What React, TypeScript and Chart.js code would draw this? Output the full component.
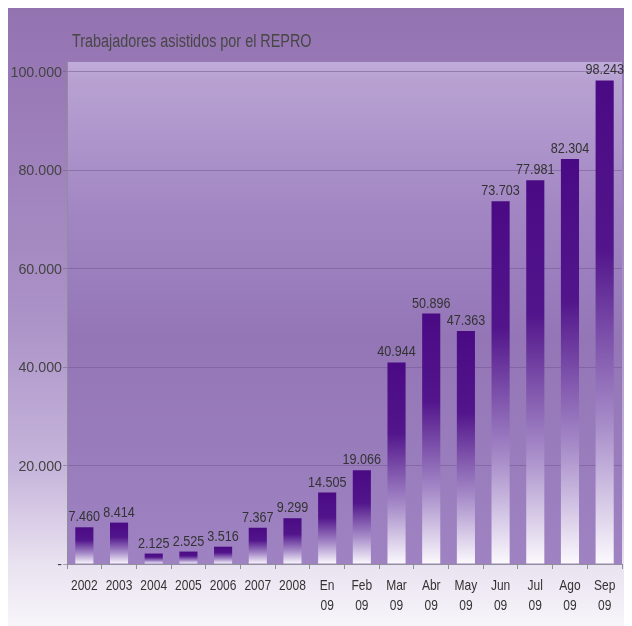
import React, { useEffect, useRef } from "react";
import { Chart, registerables } from "chart.js";

Chart.register(...registerables);

const categories: string[][] = [
  ["2002"], ["2003"], ["2004"], ["2005"], ["2006"], ["2007"], ["2008"],
  ["En", "09"], ["Feb", "09"], ["Mar", "09"], ["Abr", "09"], ["May", "09"],
  ["Jun", "09"], ["Jul", "09"], ["Ago", "09"], ["Sep", "09"],
];
const values: number[] = [
  7460, 8414, 2125, 2525, 3516, 7367, 9299, 14505, 19066, 40944, 50896, 47363,
  73703, 77981, 82304, 98243,
];
const yTicks: number[] = [0, 20000, 40000, 60000, 80000, 100000];
const title = "Trabajadores asistidos por el REPRO";

const FONT = '"Liberation Sans", Arial, sans-serif';

const fmt = (v: number) => (v === 0 ? "-" : v.toLocaleString("de-DE"));

function narrowText(
  ctx: CanvasRenderingContext2D,
  text: string,
  x: number,
  y: number,
  size: number,
  k: number,
  align: CanvasTextAlign,
  baseline: CanvasTextBaseline,
  color: string
) {
  ctx.save();
  ctx.translate(x, y);
  ctx.scale(k, 1);
  ctx.font = `${size}px ${FONT}`;
  ctx.textAlign = align;
  ctx.textBaseline = baseline;
  ctx.fillStyle = color;
  ctx.fillText(text, 0, 0);
  ctx.restore();
}

export default function App() {
  const ref = useRef<HTMLCanvasElement | null>(null);

  useEffect(() => {
    if (!ref.current) return;
    document.body.style.overflow = "hidden";

    const bgPlugin = {
      id: "bg",
      beforeDraw(chart: any) {
        const { ctx, width, height, chartArea: a } = chart;
        ctx.save();
        const g = ctx.createLinearGradient(0, 0, 0, height);
        g.addColorStop(0, "#9372b0");
        g.addColorStop(0.15, "#9a7bb8");
        g.addColorStop(0.5, "#ab92c7");
        g.addColorStop(0.75, "#c7b6dc");
        g.addColorStop(0.9, "#e9e2f0");
        g.addColorStop(1, "#f7f5fa");
        ctx.fillStyle = g;
        ctx.fillRect(0, 0, width, height);
        const p = ctx.createLinearGradient(0, a.top, 0, a.bottom);
        p.addColorStop(0, "#c1addb");
        p.addColorStop(0.03, "#b8a2d2");
        p.addColorStop(0.3, "#a286c3");
        p.addColorStop(0.55, "#9476b7");
        p.addColorStop(1, "#9e82c1");
        ctx.fillStyle = p;
        ctx.fillRect(a.left, a.top, a.right - a.left, a.bottom - a.top);
        ctx.restore();
        narrowText(ctx, title, a.left + 5, a.top - 15, 18, 0.8, "left", "alphabetic", "#474747");
      },
    };

    const labelPlugin = {
      id: "vals",
      afterDraw(chart: any) {
        const { ctx, chartArea: a } = chart;
        const meta = chart.getDatasetMeta(0);
        meta.data.forEach((bar: any, i: number) => {
          narrowText(ctx, fmt(values[i]), bar.x, bar.y - 6, 15, 0.84, "center", "alphabetic", "#333333");
        });
        const xs = chart.scales.x;
        categories.forEach((lines, i) => {
          const x = xs.getPixelForTick(i);
          lines.forEach((t, j) => {
            narrowText(ctx, t, x, a.bottom + 22 + j * 20, 15, 0.8, "center", "middle", "#333333");
          });
        });
        const ys = chart.scales.y;
        yTicks.forEach((v) => {
          const y = ys.getPixelForValue(v);
          narrowText(ctx, fmt(v), a.left - 5, y + 1, 15, 0.95, "right", "middle", "#444444");
        });
      },
    };

    const chart = new Chart(ref.current, {
      type: "bar",
      data: {
        labels: categories,
        datasets: [
          {
            data: values,
            barPercentage: 0.55,
            categoryPercentage: 0.95,
            borderWidth: 0,
            backgroundColor: (c: any) => {
              const ch = c.chart;
              if (!ch.chartArea || c.type !== "data") return "#4a0a84";
              const ys = ch.scales.y;
              const top = ys.getPixelForValue(values[c.dataIndex]);
              const base = ys.getPixelForValue(0);
              const g = ch.ctx.createLinearGradient(0, top, 0, base);
              g.addColorStop(0, "#4a0a84");
              g.addColorStop(0.35, "#52158b");
              g.addColorStop(0.7, "#a488c7");
              g.addColorStop(1, "#fbf9fd");
              return g;
            },
          },
        ],
      },
      options: {
        animation: false,
        responsive: false,
        layout: { padding: { top: 54, right: 10, left: 0, bottom: 0 } },
        plugins: {
          legend: { display: false },
          title: { display: false },
          tooltip: { enabled: false },
        },
        scales: {
          x: {
            grid: {
              display: true,
              drawOnChartArea: false,
              drawTicks: true,
              tickLength: 5,
              color: "#8f8f99",
            },
            border: { display: true, color: "#8f8f99" },
            ticks: {
              color: "rgba(0,0,0,0)",
              font: { family: FONT, size: 13 },
              padding: 8,
              maxRotation: 0,
              autoSkip: false,
            },
            afterFit(s: any) {
              s.height = 62;
            },
          },
          y: {
            min: 0,
            max: 102000,
            afterBuildTicks(s: any) {
              s.ticks = yTicks.map((v) => ({ value: v }));
            },
            grid: {
              color: "rgba(112, 84, 140, 0.5)",
              tickLength: 4,
              drawTicks: true,
            },
            border: { display: true, color: "#8f8f99" },
            ticks: {
              color: "rgba(0,0,0,0)",
              font: { family: FONT, size: 14 },
              padding: 2,
              callback: (v: any) => fmt(Number(v)),
            },
            afterFit(s: any) {
              s.width = 59;
            },
          },
        },
      },
      plugins: [bgPlugin, labelPlugin],
    });

    return () => chart.destroy();
  }, []);

  return (
    <div style={{ width: 624, height: 618, overflow: "visible" }}>
      <canvas
        ref={ref}
        width={624}
        height={618}
        style={{ display: "block", width: 624, height: 618, maxWidth: "none" }}
      />
    </div>
  );
}
